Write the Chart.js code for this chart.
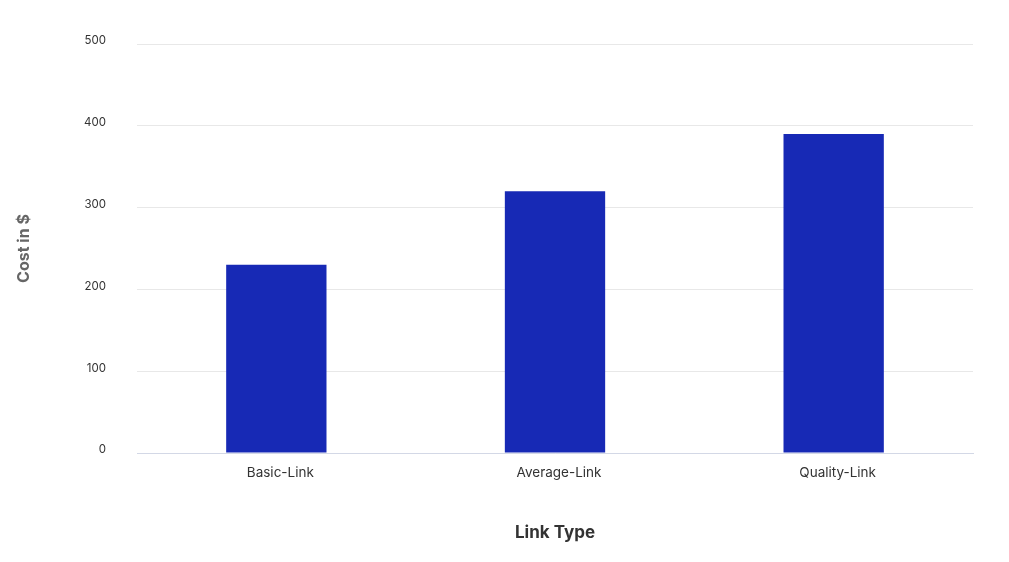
<!DOCTYPE html>
<html>
<head>
<meta charset="utf-8">
<script src="https://cdn.jsdelivr.net/npm/chart.js@4/dist/chart.umd.min.js"></script>
<style>
  html, body { margin: 0; padding: 0; background: #fff; }
  #wrap { width: 1009px; height: 562px; }
</style>
</head>
<body>
<div id="wrap"><canvas id="costChart" width="1009" height="562"></canvas></div>
<script>
// Link cost data
const linkTypes = ['Basic-Link', 'Average-Link', 'Quality-Link'];
const costs = [230, 320, 390];
const yMin = 0;
const yMax = 500;
const yStep = 100;

const fontFamily = "Inter, 'Open Sans', sans-serif";

const costCtx = document.getElementById('costChart').getContext('2d');

const costChart = new Chart(costCtx, {
    type: 'bar',
    data: {
        labels: linkTypes,
        datasets: [{
            label: 'Cost in $',
            data: costs,
            backgroundColor: '#1729b5',
            borderWidth: 0,
            categoryPercentage: 0.36,
            barPercentage: 1
        }]
    },
    options: {
        responsive: false,
        animation: false,
        layout: {
            padding: { top: 44, right: 36, bottom: 0, left: 0 }
        },
        plugins: {
            legend: { display: false },
            tooltip: { enabled: false }
        },
        scales: {
            x: {
                grid: { display: false, drawTicks: false },
                border: { display: true, color: '#d3d8e6', width: 1 },
                ticks: {
                    color: '#333',
                    padding: 12,
                    labelOffset: 4,
                    font: { family: fontFamily, size: 13.5 }
                },
                title: {
                    display: true,
                    text: 'Link Type',
                    color: '#333',
                    font: { family: fontFamily, size: 17, weight: 'bold' },
                    padding: { top: 0, bottom: 19 }
                },
                afterFit: function (scale) { scale.height = 109; }
            },
            y: {
                min: yMin,
                max: yMax,
                grid: { color: '#e8e8e8', drawTicks: false },
                border: { display: false },
                ticks: {
                    stepSize: yStep,
                    color: '#333',
                    padding: 31,
                    labelOffset: -3,
                    font: { family: fontFamily, size: 11.5 }
                },
                title: {
                    display: true,
                    text: 'Cost in $',
                    color: '#666',
                    font: { family: fontFamily, size: 16, weight: 'bold' },
                    padding: { top: 15, bottom: 0 }
                },
                afterFit: function (scale) { scale.width = 137; }
            }
        }
    }
});
</script>
</body>
</html>
